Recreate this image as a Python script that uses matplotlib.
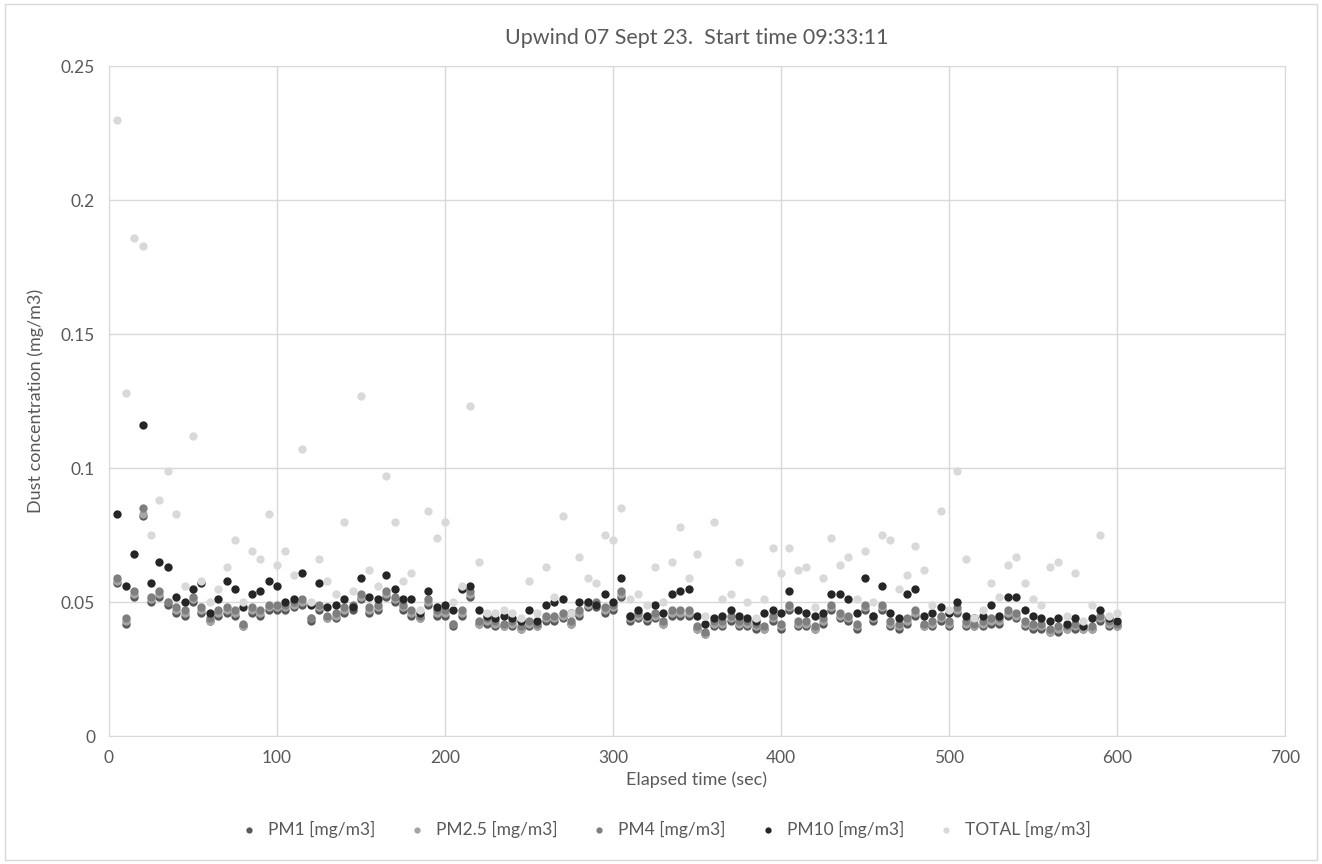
import numpy as np
import matplotlib.pyplot as plt

### elapsed time, every 5 sec from 5 to 600
elapsed = list(range(5, 605, 5))

### dust concentrations (mg/m3)
pm10 = [0.083, 0.056, 0.068, 0.116, 0.057, 0.065, 0.063, 0.052, 0.050, 0.055,
        0.057, 0.046, 0.051, 0.058, 0.055, 0.048, 0.053, 0.054, 0.058, 0.056,
        0.050, 0.051, 0.061, 0.049, 0.057, 0.048, 0.049, 0.051, 0.048, 0.059,
        0.052, 0.051, 0.060, 0.055, 0.051, 0.051, 0.046, 0.054, 0.048, 0.049,
        0.047, 0.055, 0.056, 0.047, 0.045, 0.044, 0.045, 0.044, 0.043, 0.047,
        0.043, 0.049, 0.050, 0.051, 0.046, 0.050, 0.050, 0.049, 0.053, 0.050,
        0.059, 0.045, 0.047, 0.045, 0.049, 0.046, 0.053, 0.054, 0.055, 0.045,
        0.042, 0.044, 0.045, 0.047, 0.045, 0.044, 0.043, 0.046, 0.047, 0.046,
        0.054, 0.047, 0.046, 0.045, 0.046, 0.053, 0.053, 0.051, 0.046, 0.059,
        0.045, 0.056, 0.046, 0.044, 0.053, 0.055, 0.045, 0.046, 0.048, 0.046,
        0.050, 0.045, 0.044, 0.045, 0.049, 0.045, 0.052, 0.052, 0.047, 0.045,
        0.044, 0.043, 0.044, 0.042, 0.044, 0.041, 0.044, 0.047, 0.044, 0.043]

pm4 = [0.059, 0.044, 0.054, 0.085, 0.052, 0.054, 0.050, 0.048, 0.047, 0.052,
       0.048, 0.044, 0.047, 0.048, 0.047, 0.042, 0.048, 0.047, 0.049, 0.049,
       0.049, 0.050, 0.051, 0.044, 0.049, 0.045, 0.046, 0.048, 0.049, 0.053,
       0.048, 0.049, 0.054, 0.052, 0.049, 0.047, 0.045, 0.051, 0.047, 0.047,
       0.042, 0.047, 0.054, 0.043, 0.044, 0.043, 0.042, 0.043, 0.041, 0.043,
       0.042, 0.045, 0.045, 0.046, 0.043, 0.047, 0.050, 0.050, 0.048, 0.049,
       0.054, 0.045, 0.046, 0.045, 0.046, 0.043, 0.047, 0.047, 0.047, 0.041,
       0.039, 0.043, 0.043, 0.045, 0.043, 0.043, 0.042, 0.041, 0.045, 0.042,
       0.049, 0.043, 0.043, 0.041, 0.044, 0.049, 0.046, 0.045, 0.042, 0.049,
       0.045, 0.049, 0.043, 0.042, 0.044, 0.047, 0.042, 0.043, 0.045, 0.043,
       0.048, 0.043, 0.042, 0.043, 0.044, 0.044, 0.047, 0.046, 0.043, 0.042,
       0.042, 0.040, 0.041, 0.041, 0.042, 0.041, 0.041, 0.045, 0.043, 0.042]

pm25 = [0.058, 0.043, 0.053, 0.083, 0.051, 0.053, 0.050, 0.047, 0.046, 0.051,
        0.047, 0.043, 0.046, 0.047, 0.046, 0.041, 0.047, 0.046, 0.048, 0.048,
        0.048, 0.049, 0.050, 0.044, 0.048, 0.044, 0.045, 0.047, 0.048, 0.052,
        0.047, 0.048, 0.053, 0.051, 0.048, 0.046, 0.044, 0.050, 0.046, 0.046,
        0.042, 0.046, 0.053, 0.042, 0.043, 0.042, 0.041, 0.042, 0.040, 0.042,
        0.041, 0.044, 0.044, 0.045, 0.042, 0.046, 0.049, 0.049, 0.047, 0.048,
        0.053, 0.044, 0.045, 0.044, 0.045, 0.042, 0.046, 0.046, 0.046, 0.040,
        0.038, 0.042, 0.042, 0.044, 0.042, 0.042, 0.041, 0.040, 0.044, 0.041,
        0.048, 0.042, 0.042, 0.040, 0.043, 0.048, 0.045, 0.044, 0.041, 0.048,
        0.044, 0.048, 0.042, 0.041, 0.043, 0.046, 0.041, 0.042, 0.044, 0.042,
        0.047, 0.042, 0.041, 0.042, 0.043, 0.043, 0.046, 0.045, 0.042, 0.041,
        0.041, 0.039, 0.040, 0.040, 0.041, 0.040, 0.040, 0.044, 0.042, 0.041]

pm1 = [0.057, 0.042, 0.052, 0.082, 0.050, 0.052, 0.049, 0.046, 0.045, 0.050,
       0.046, 0.043, 0.045, 0.046, 0.045, 0.041, 0.046, 0.045, 0.047, 0.047,
       0.047, 0.048, 0.049, 0.043, 0.047, 0.044, 0.044, 0.046, 0.047, 0.051,
       0.046, 0.047, 0.052, 0.050, 0.047, 0.045, 0.044, 0.049, 0.045, 0.045,
       0.041, 0.045, 0.052, 0.042, 0.042, 0.041, 0.041, 0.041, 0.040, 0.041,
       0.041, 0.043, 0.043, 0.044, 0.042, 0.045, 0.048, 0.048, 0.046, 0.047,
       0.052, 0.043, 0.044, 0.043, 0.044, 0.042, 0.045, 0.045, 0.045, 0.040,
       0.038, 0.041, 0.041, 0.043, 0.041, 0.041, 0.040, 0.040, 0.043, 0.040,
       0.047, 0.041, 0.041, 0.040, 0.042, 0.047, 0.044, 0.043, 0.040, 0.047,
       0.043, 0.047, 0.041, 0.040, 0.042, 0.045, 0.041, 0.041, 0.043, 0.041,
       0.046, 0.041, 0.041, 0.041, 0.042, 0.042, 0.045, 0.044, 0.041, 0.040,
       0.040, 0.039, 0.039, 0.040, 0.040, 0.040, 0.040, 0.043, 0.041, 0.041]

total = [0.230, 0.128, 0.186, 0.183, 0.075, 0.088, 0.099, 0.083, 0.056, 0.112,
         0.058, 0.050, 0.055, 0.063, 0.073, 0.050, 0.069, 0.066, 0.083, 0.064,
         0.069, 0.060, 0.107, 0.050, 0.066, 0.058, 0.053, 0.080, 0.054, 0.127,
         0.062, 0.056, 0.097, 0.080, 0.058, 0.061, 0.047, 0.084, 0.074, 0.080,
         0.050, 0.056, 0.123, 0.065, 0.046, 0.046, 0.047, 0.046, 0.044, 0.058,
         0.046, 0.063, 0.052, 0.082, 0.046, 0.067, 0.059, 0.057, 0.075, 0.073,
         0.085, 0.051, 0.053, 0.049, 0.063, 0.050, 0.065, 0.078, 0.059, 0.068,
         0.045, 0.080, 0.051, 0.053, 0.065, 0.050, 0.044, 0.051, 0.070, 0.061,
         0.070, 0.062, 0.063, 0.048, 0.059, 0.074, 0.064, 0.067, 0.051, 0.069,
         0.050, 0.075, 0.073, 0.055, 0.060, 0.071, 0.062, 0.049, 0.084, 0.047,
         0.099, 0.066, 0.044, 0.047, 0.057, 0.052, 0.064, 0.067, 0.057, 0.051,
         0.049, 0.063, 0.065, 0.045, 0.061, 0.043, 0.049, 0.075, 0.045, 0.046]

series_names = ['PM1 [mg/m3]', 'PM2.5 [mg/m3]', 'PM4 [mg/m3]', 'PM10 [mg/m3]', 'TOTAL [mg/m3]']
series_colors = ['#595959', '#a5a5a5', '#7f7f7f', '#262626', '#d9d9d9']

plt.rcParams['font.family'] = ['Lato', 'DejaVu Sans']
txt_col = '#595959'

fig = plt.figure(figsize=(13.22, 8.64), dpi=100)
ax = fig.add_axes([0.0824, 0.148, 0.8896, 0.7756])

### draw in excel order, TOTAL ends up on top
for vals, name, col in zip([pm1, pm25, pm4, pm10, total], series_names, series_colors):
    ax.scatter(elapsed, vals, s=36, color=col, label=name, linewidths=0, zorder=3)

ax.set_xlim(0, 700)
ax.set_ylim(0, 0.25)
ax.set_xticks(np.arange(0, 701, 100))
ax.set_yticks([0, 0.05, 0.1, 0.15, 0.2, 0.25])
ax.set_yticklabels(['0', '0.05', '0.1', '0.15', '0.2', '0.25'])
ax.grid(True, color='#d9d9d9', linewidth=1.0, zorder=0)
for sp in ax.spines.values():
    sp.set_color('#d9d9d9')
ax.tick_params(length=0, labelsize=12.5, colors=txt_col, pad=10)

ax.set_title('Upwind 07 Sept 23.  Start time 09:33:11', fontsize=15.5, color=txt_col, pad=16)
ax.set_xlabel('Elapsed time (sec)', fontsize=13, color=txt_col, labelpad=4)
ax.set_ylabel('Dust concentration (mg/m3)', fontsize=13, color=txt_col, labelpad=12)

leg = fig.legend(loc='lower center', bbox_to_anchor=(0.5, 0.012), ncol=5, frameon=False,
                 fontsize=12.5, handletextpad=0.1, columnspacing=1.4, markerscale=0.75)
for t in leg.get_texts():
    t.set_color(txt_col)

### light frame around the whole chart
fig.patches.append(plt.Rectangle((0.004, 0.005), 0.992, 0.99, transform=fig.transFigure,
                                 fill=False, edgecolor='#d9d9d9', linewidth=1.0))

fig.savefig('out.png', dpi=100)
